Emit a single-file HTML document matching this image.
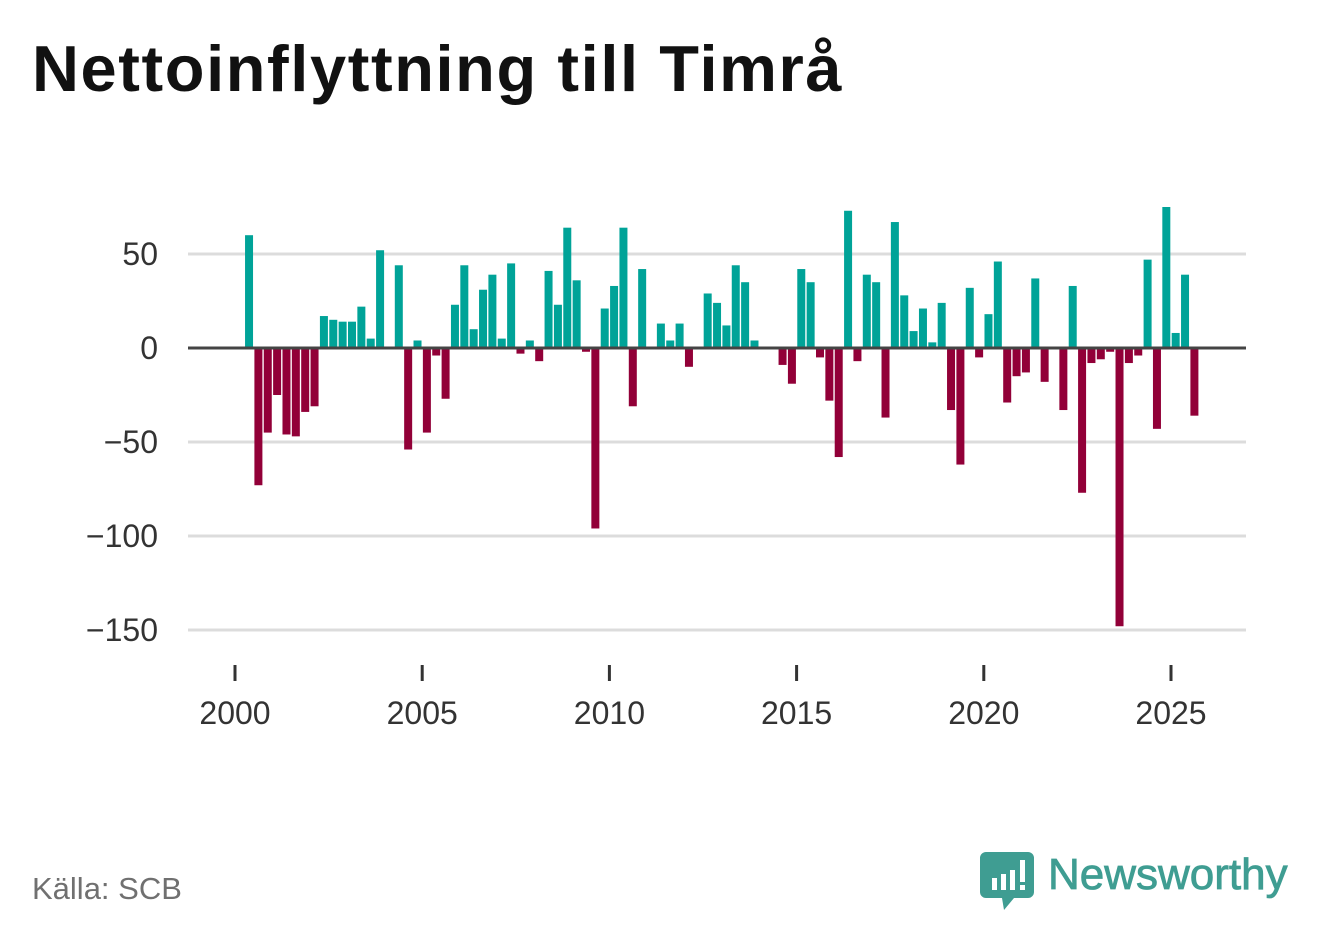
<!DOCTYPE html>
<html><head><meta charset="utf-8">
<style>
html,body{margin:0;padding:0;background:#fff;}
body{width:1322px;height:939px;position:relative;overflow:hidden;font-family:"Liberation Sans","DejaVu Sans",sans-serif;}
#title{position:absolute;left:32px;top:31px;font-size:65px;font-weight:bold;color:#111;white-space:nowrap;letter-spacing:1.6px;}
#source{position:absolute;left:32px;top:871px;font-size:31px;color:#707070;}
</style></head>
<body>
<div id="title">Nettoinflyttning till Timrå</div>
<svg id="chart" width="1322" height="939" style="position:absolute;left:0;top:0">
<g id="grid"></g><g id="bars"></g><g id="axes"></g>
</svg>
<div id="source">Källa: SCB</div>
<svg width="330" height="80" style="position:absolute;left:978px;top:846px">
<path d="M8 6 h42 a6 6 0 0 1 6 6 v34 a6 6 0 0 1 -6 6 h-14 l-10 12 l-2 -12 h-16 a6 6 0 0 1 -6 -6 v-34 a6 6 0 0 1 6 -6z" fill="#3f9d92"/>
<rect x="14" y="32" width="5" height="12" fill="#fff"/><rect x="23" y="28" width="5" height="16" fill="#fff"/><rect x="32" y="24" width="5" height="20" fill="#fff"/><rect x="42" y="14" width="5" height="22" fill="#fff"/><rect x="42" y="39" width="5" height="5" fill="#fff"/>
<text x="70" y="43" font-family="Liberation Sans, sans-serif" font-size="44" fill="#3f9d92" stroke="#3f9d92" stroke-width="0.8">Newsworthy</text>
</svg>
<script>
const quarters = 102; // Q2 2000 .. Q3 2025
const values = [60,-73,-45,-25,-46,-47,-34,-31,17,15,14,14,22,5,52,0,44,-54,4,-45,-4,-27,23,44,10,31,39,5,45,-3,4,-7,41,23,64,36,-2,-96,21,33,64,-31,42,0,13,4,13,-10,0,29,24,12,44,35,4,0,0,-9,-19,42,35,-5,-28,-58,73,-7,39,35,-37,67,28,9,21,3,24,-33,-62,32,-5,18,46,-29,-15,-13,37,-18,0,-33,33,-77,-8,-6,-2,-148,-8,-4,47,-43,75,8,39,-36];
const yTicks = [50,0,-50,-100,-150];
const yTickLabels = ["50","0","\u221250","\u2212100","\u2212150"];
const xTicks = [2000,2005,2010,2015,2020,2025];
const startYear = 2000.25;

const NS="http://www.w3.org/2000/svg";
function y(v){return 348 - v*1.88;}
function x(t){return 235 + (t-2000)*37.44;}
function mk(tag,attrs,parent){const e=document.createElementNS(NS,tag);for(const k in attrs)e.setAttribute(k,attrs[k]);parent.appendChild(e);return e;}
const grid=document.getElementById('grid'),bars=document.getElementById('bars'),axes=document.getElementById('axes');
yTicks.forEach((v,i)=>{
  if(v!==0){const l=mk('line',{x1:188,x2:1246,y1:y(v),y2:y(v),stroke:'#dcdcdc','stroke-width':3},grid);
  
  }
  const t=mk('text',{x:158,y:y(v)+11,'text-anchor':'end','font-size':32,fill:'#333','font-family':'Liberation Sans, sans-serif'},axes);
  t.textContent=yTickLabels[i];
  
  
});
values.forEach((v,i)=>{
  if(v===0)return;
  const cx=x(startYear+i*0.25+0.125);
  const r=mk('rect',{x:cx-4,y:v>0?y(v):y(0),width:8,height:Math.abs(v)*1.88,fill:v>0?'#00a398':'#920038'},bars);
  
  
});
const zl=mk('line',{x1:188,x2:1246,y1:y(0),y2:y(0),stroke:'#444','stroke-width':3},axes);


xTicks.forEach(yr=>{
  const tk=mk('line',{x1:x(yr),x2:x(yr),y1:665,y2:681,stroke:'#333','stroke-width':3},axes);
  
  
  const t=mk('text',{x:x(yr),y:724,'text-anchor':'middle','font-size':32,fill:'#333','font-family':'Liberation Sans, sans-serif'},axes);
  t.textContent=yr;
  
  
});
</script>
</body></html>
